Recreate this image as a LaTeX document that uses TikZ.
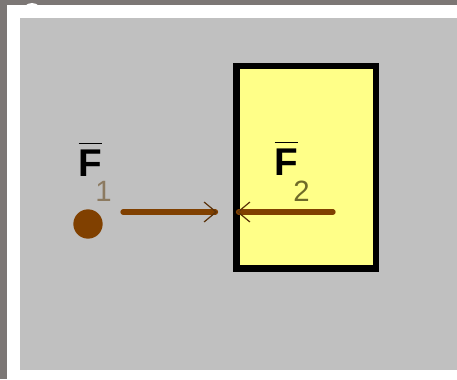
\documentclass[tikz,border=0pt]{standalone}
\usepackage{fontspec}
\setmainfont{Liberation Sans}
\usetikzlibrary{arrows.meta}
\definecolor{frame}{RGB}{124,119,117}
\definecolor{panel}{RGB}{192,192,192}
\definecolor{pale}{RGB}{255,255,136}
\definecolor{rust}{RGB}{128,64,0}
\definecolor{tipcol}{RGB}{90,50,10}
\definecolor{onecol}{RGB}{140,122,96}
\definecolor{twocol}{RGB}{110,106,40}
\tikzset{x=0.75pt, y=-0.75pt,
	block/.style={draw=black, fill=pale, line width=5pt, miter limit=2,
		minimum width=104.6pt, minimum height=151.9pt, inner sep=0pt},
	ball/.style={circle, fill=rust, minimum size=22pt, inner sep=0pt},
	force/.style={draw=rust, line width=4pt, line cap=round,
		-{Straight Barb[length=9pt, width=15pt, line width=0.9pt, color=tipcol]}},
	vec/.style={font=\fontsize{29}{30}\selectfont\bfseries, inner sep=0pt, anchor=base},
	idx/.style={font=\fontsize{22}{24}\selectfont, inner sep=0pt, anchor=base}}
\newcommand{\vecF}{$\overline{\mbox{F}\rule{0pt}{23pt}}$}

\begin{document}
\begin{tikzpicture}
    % frame and panel
    \fill[frame] (0,0) rectangle (457,379);
    \fill[white] (32,13) circle (10);
    \fill[white] (7,5) rectangle (457,379);
    \fill[panel] (20,18) rectangle (457,370);

    \node[block] (box) at (306.25,167.25) {};
    \node[ball] (ball) at (88,224) {};

    \node[vec] (f1) at (90.5,176) {\vecF};
    \node[idx, text=onecol] (n1) at (103.5,201) {1};
    \node[vec] (f2) at (286.5,175) {\vecF};
    \node[idx, text=twocol] (n2) at (301.5,201) {2};

    \coordinate (a1) at (123,212);
    \coordinate (b1) at (217,212);
    \coordinate (a2) at (333,212);
    \coordinate (b2) at (237,212);
    \draw[force] (a1) -- (b1);
    \draw[force] (a2) -- (b2);
\end{tikzpicture}
\end{document}
